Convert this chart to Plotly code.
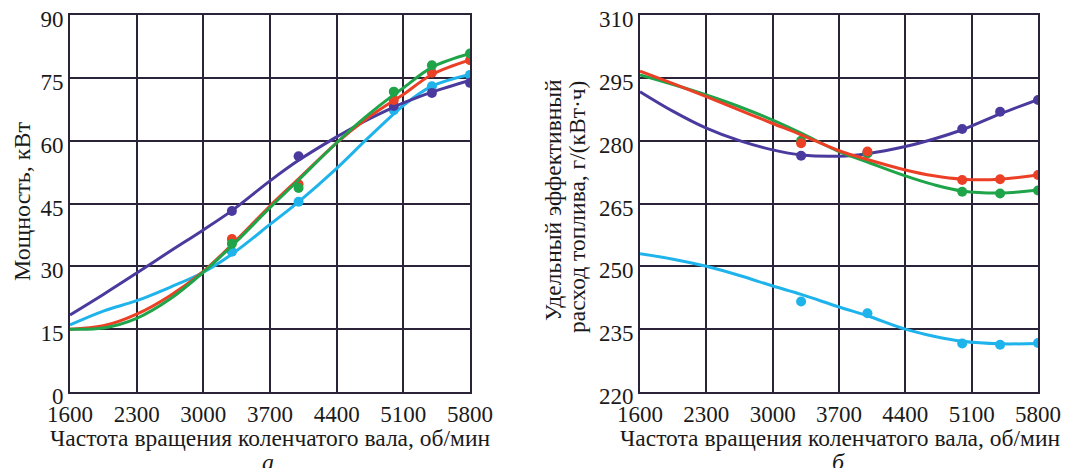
import plotly.graph_objects as go

# ---- data ----
x_ticks = [1600, 2300, 3000, 3700, 4400, 5100, 5800]
pt_x = [3300, 4000, 5000, 5400, 5800]

# chart a: power, kW
curve_x_a = [1600, 1950, 2300, 2650, 3000, 3300, 3700, 4000, 4400, 4700, 5000, 5100, 5400, 5800]
pow_indigo_curve = [18.4, 23.3, 28.4, 33.6, 38.7, 43.3, 50.4, 55.3, 60.9, 64.7, 68.0, 69.0, 71.6, 74.4]
pow_red_curve = [15.0, 15.8, 18.6, 23.0, 28.8, 35.2, 44.4, 50.9, 59.5, 65.0, 69.6, 71.0, 75.8, 79.3]
pow_green_curve = [15.0, 15.3, 17.6, 22.2, 28.6, 34.9, 44.0, 50.6, 59.5, 65.6, 71.0, 72.6, 77.5, 80.8]
pow_cyan_curve = [16.0, 19.3, 21.8, 25.0, 28.6, 32.9, 40.0, 45.4, 53.4, 60.0, 66.4, 68.4, 73.0, 75.8]
pow_indigo_pts = [43.2, 56.3, 68.3, 71.4, 73.8]
pow_red_pts = [36.5, 49.6, 69.7, 76.2, 79.2]
pow_green_pts = [35.4, 48.7, 71.7, 78.0, 80.8]
pow_cyan_pts = [33.5, 45.4, 67.3, 73.0, 75.7]

# chart b: specific fuel consumption, g/(kW*h)
curve_x_b = [1600, 1950, 2300, 2650, 3000, 3300, 3700, 4000, 4400, 4700, 5000, 5400, 5800]
sfc_indigo_curve = [291.7, 287.0, 283.0, 280.0, 277.8, 276.6, 276.3, 276.9, 278.6, 280.4, 282.6, 286.4, 289.8]
sfc_red_curve = [296.6, 293.6, 290.5, 287.3, 284.1, 281.4, 277.6, 275.5, 273.0, 271.6, 270.8, 270.8, 271.8]
sfc_green_curve = [295.7, 293.4, 290.9, 288.1, 284.9, 281.8, 277.4, 274.9, 271.6, 269.5, 268.0, 267.5, 268.2]
sfc_cyan_curve = [253.0, 251.7, 250.0, 247.8, 245.3, 243.3, 240.3, 238.2, 235.0, 233.3, 232.1, 231.5, 231.6]
sfc_indigo_pts = [276.4, 277.0, 282.8, 286.9, 289.7]
sfc_red_pts = [279.4, 277.4, 270.6, 270.8, 271.8]
sfc_green_pts = [280.0, 277.0, 267.8, 267.4, 268.1]
sfc_cyan_pts = [241.6, 238.8, 231.6, 231.3, 231.7]

pow_ticks = [0, 15, 30, 45, 60, 75, 90]
sfc_ticks = [220, 235, 250, 265, 280, 295, 310]

x_title = "Частота вращения коленчатого вала, об/мин"
y_title_a = "Мощность, кВт"
y_title_b1 = "Удельный эффективный"
y_title_b2 = "расход топлива, г/(кВт·ч)"

C_INDIGO = "#4b3a9e"
C_RED = "#ec4026"
C_GREEN = "#1fa44a"
C_CYAN = "#1fb3ec"
GRID = "#2b2438"
FONT = "Liberation Serif"

fig = go.Figure()

def add_series(xa, ya, cx, cy, px, py, color):
    fig.add_trace(go.Scatter(x=cx, y=cy, mode="lines", line=dict(color=color, width=3, shape="spline", smoothing=1.0),
                             xaxis=xa, yaxis=ya, showlegend=False, hoverinfo="skip"))
    fig.add_trace(go.Scatter(x=px, y=py, mode="markers", marker=dict(color=color, size=10),
                             xaxis=xa, yaxis=ya, showlegend=False))

for cy, py, col in [(pow_cyan_curve, pow_cyan_pts, C_CYAN), (pow_indigo_curve, pow_indigo_pts, C_INDIGO),
                    (pow_red_curve, pow_red_pts, C_RED), (pow_green_curve, pow_green_pts, C_GREEN)]:
    add_series("x", "y", curve_x_a, cy, pt_x, py, col)

for cy, py, col in [(sfc_cyan_curve, sfc_cyan_pts, C_CYAN), (sfc_indigo_curve, sfc_indigo_pts, C_INDIGO),
                    (sfc_green_curve, sfc_green_pts, C_GREEN), (sfc_red_curve, sfc_red_pts, C_RED)]:
    add_series("x2", "y2", curve_x_b, cy, pt_x, py, col)

OFF = 8  # page body margin
W, H = 1083 - OFF, 468 - OFF
def px_x(p):
    return (p - OFF) / W
def px_y(p):
    return 1 - (p - OFF) / H

axis_common = dict(showgrid=True, gridcolor=GRID, gridwidth=2, showline=True, linecolor=GRID, linewidth=2,
                   mirror=True, zeroline=False, ticks="", automargin=False, ticklabeloverflow="allow",
                   tickfont=dict(family=FONT, size=23, color="#1a1a1a"))
y_extra = dict(ticklabelshift=4)

fig.update_layout(
    width=W, height=H,
    margin=dict(l=0, r=0, t=0, b=0),
    paper_bgcolor="white", plot_bgcolor="white",
    xaxis=dict(domain=[px_x(70), px_x(470)], range=[1600, 5800], tickvals=x_ticks, anchor="y", **axis_common),
    yaxis=dict(domain=[px_y(392), px_y(15)], range=[0, 90], tickvals=pow_ticks, anchor="x", **axis_common, **y_extra),
    xaxis2=dict(domain=[px_x(640), px_x(1038)], range=[1600, 5800], tickvals=x_ticks, anchor="y2", **axis_common),
    yaxis2=dict(domain=[px_y(392), px_y(15)], range=[220, 310], tickvals=sfc_ticks, anchor="x2", **axis_common, **y_extra),
)

def ann(text, x, y, size, angle=0, italic=False):
    fig.add_annotation(text=text, x=px_x(x), y=px_y(y), xref="paper", yref="paper", showarrow=False,
                       font=dict(family=FONT, size=size, color="#1a1a1a", style="italic" if italic else "normal"),
                       textangle=angle, xanchor="center", yanchor="middle")

ann(x_title, 270, 438, 23.5)
ann(x_title, 840, 438, 23.5)
ann(y_title_a, 22, 202, 24, angle=-90)
ann(y_title_b1, 553, 200, 23.5, angle=-90)
ann(y_title_b2, 577, 207, 23.5, angle=-90)
ann("а", 268, 462, 24, italic=True)
ann("б", 838, 462, 24, italic=True)

fig.write_html("out.html")
